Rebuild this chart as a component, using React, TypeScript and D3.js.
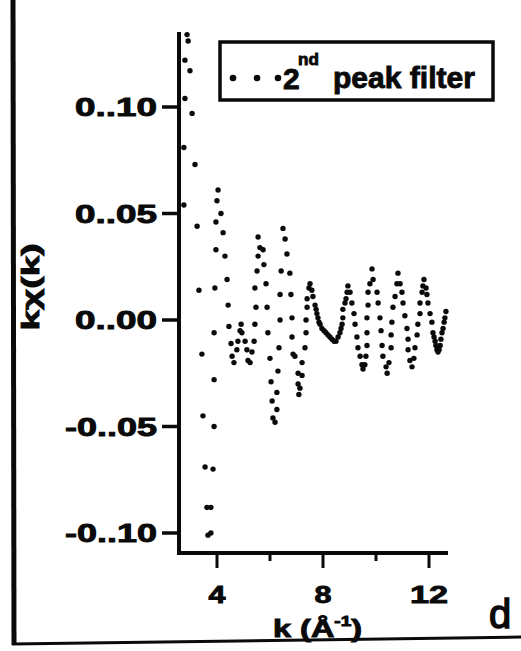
import React from "react";
import * as d3 from "d3";

// ---- data ----
const kValues: number[] = [
  2.75, 2.75, 2.79, 2.79, 2.87, 2.91, 2.98, 3.06, 3.17, 3.25, 3.32, 3.43, 3.47, 3.55, 3.62, 3.66, 3.77,
  3.77, 3.85, 3.89, 3.89, 3.89, 3.92, 3.96, 3.96, 4.0, 4.04,
  4.15, 4.23, 4.3, 4.38, 4.42, 4.45, 4.53, 4.57, 4.64,
  4.75, 4.79, 4.87, 4.91, 4.94, 5.06, 5.13, 5.17, 5.25,
  5.32, 5.4, 5.43, 5.47, 5.43, 5.51, 5.55, 5.55,
  5.62, 5.74, 5.77, 5.85, 5.89, 5.92, 6.0, 6.04, 6.08, 6.11, 6.19,
  6.26, 6.26, 6.3, 6.34, 6.38, 6.38, 6.42, 6.49,
  6.57, 6.64, 6.75, 6.79, 6.83, 6.83, 6.87, 6.94, 7.06, 7.06, 7.13, 7.09,
  7.21, 7.21, 7.32, 7.36, 7.36, 7.4, 7.4, 7.47, 7.51,
  7.58, 7.62, 7.7, 7.74, 7.77, 7.81, 7.85, 7.89, 7.96, 8.04, 8.11, 8.19, 8.26, 8.34, 8.42, 8.49,
  8.57, 8.64, 8.68, 8.72, 8.75, 8.75, 8.83, 8.87, 8.91, 8.94,
  9.02, 9.09, 9.17, 9.21, 9.28, 9.32, 9.4, 9.47, 9.51,
  9.58, 9.62, 9.66, 9.66, 9.66, 9.7, 9.7, 9.77, 9.85,
  9.89, 10.04, 10.08, 10.15, 10.19, 10.23, 10.26, 10.38, 10.42,
  10.49, 10.57, 10.57, 10.6, 10.64, 10.72, 10.79, 10.83,
  10.91, 10.98, 11.02, 11.09, 11.17, 11.21, 11.21, 11.28, 11.36,
  11.43, 11.47, 11.55, 11.58, 11.66, 11.66, 11.74, 11.77, 11.81,
  11.89, 11.92, 11.96, 12.04, 12.11, 12.15, 12.19, 12.23, 12.26, 12.3, 12.34,
  12.38, 12.42, 12.45, 12.49, 12.53, 12.57, 12.6, 12.64,
];
const chiValues: number[] = [
  0.054, 0.081, 0.104, 0.122, 0.134, 0.131, 0.117, 0.097, 0.073, 0.044, 0.014, -0.016, -0.045, -0.069, -0.088, -0.101, -0.1,
  -0.088, -0.07, -0.05, -0.028, -0.006, 0.015, 0.033, 0.046, 0.056, 0.061,
  0.05, 0.041, 0.03, 0.019, 0.007, -0.003, -0.011, -0.017, -0.02,
  -0.014, -0.01, -0.005, -0.002, -0.006, -0.01, -0.014, -0.019, -0.02,
  -0.015, -0.01, -0.002, 0.006, 0.015, 0.023, 0.03, 0.039,
  0.034, 0.033, 0.026, 0.017, 0.006, -0.006, -0.018, -0.029, -0.038, -0.046, -0.048,
  -0.042, -0.034, -0.024, -0.013, 0.0, 0.012, 0.023, 0.043,
  0.038, 0.031, 0.022, 0.012, 0.001, -0.008, -0.016, -0.017, -0.025, -0.03, -0.032, -0.035,
  -0.026, -0.02, -0.013, -0.006, 0.0, 0.006, 0.01, 0.015, 0.017,
  0.014, 0.011, 0.007, 0.005, 0.003, 0.001, -0.001, -0.002, -0.004, -0.005, -0.006, -0.007, -0.008, -0.009, -0.01, -0.01,
  -0.008, -0.006, -0.004, -0.002, 0.001, 0.005, 0.008, 0.01, 0.013, 0.016,
  0.013, 0.008, 0.003, -0.002, -0.008, -0.013, -0.017, -0.021, -0.023,
  -0.021, -0.017, -0.012, -0.006, 0.001, 0.007, 0.013, 0.017, 0.024,
  0.019, 0.013, 0.008, 0.001, -0.005, -0.012, -0.017, -0.022, -0.025,
  -0.02, -0.013, -0.007, -0.001, 0.006, 0.011, 0.017, 0.022,
  0.017, 0.013, 0.008, 0.002, -0.004, -0.009, -0.014, -0.019, -0.022,
  -0.018, -0.013, -0.007, -0.002, 0.003, 0.008, 0.013, 0.016, 0.019,
  0.015, 0.012, 0.008, 0.003, -0.001, -0.006, -0.008, -0.01, -0.012, -0.014, -0.015,
  -0.014, -0.012, -0.009, -0.006, -0.004, -0.001, 0.001, 0.004,
];

const yTicks: number[] = [0.1, 0.05, 0.0, -0.05, -0.1];
const yTickLabels: string[] = ["0..10", "0..05", "0..00", "-0..05", "-0..10"];
const xTicks: number[] = [4, 6, 8, 10, 12];
const xTickLabels: string[] = ["4", "", "8", "", "12"];
const seriesName = "peak filter";

const FONT = "'Liberation Sans', Arial, Helvetica, sans-serif";
const INK = "#0a0a0a";
const heavy = { stroke: INK, strokeWidth: 0.9, paintOrder: "stroke" as const };

export default function App() {
  const W = 521;
  const H = 651;
  const x = d3.scaleLinear().domain([4, 12]).range([217, 429]);
  const y = d3.scaleLinear().domain([-0.1, 0.1]).range([533, 107]);

  const axisX = 179;
  const axisTop = 32;
  const axisY = 553;
  const axisRight = 448;

  const points = kValues.map((k, i) => ({ k, v: chiValues[i] }));

  return (
    <svg
      width={W}
      height={H}
      viewBox={`0 0 ${W} ${H}`}
      style={{ position: "absolute", left: 0, top: 0, background: "#fff" }}
    >
      <rect x={0} y={0} width={W} height={H} fill="#fff" />
      {/* panel frame remnants */}
      <line x1={13} y1={0} x2={14} y2={645} stroke={INK} strokeWidth={5} />
      <line x1={12} y1={644} x2={W} y2={637} stroke={INK} strokeWidth={3} />

      {/* y axis */}
      <line x1={axisX} y1={axisTop} x2={axisX} y2={axisY + 2} stroke={INK} strokeWidth={4} />
      {yTicks.map((t, i) => (
        <g key={"yt" + i}>
          <line x1={axisX - 17} x2={axisX} y1={y(t)} y2={y(t)} stroke={INK} strokeWidth={3.5} />
          <text
            x={axisX - 22}
            y={y(t) + 9}
            textAnchor="end"
            fontFamily={FONT}
            fontWeight="bold"
            fontSize={25}
            fill={INK}
            {...heavy}
            textLength={yTickLabels[i].startsWith("-") ? 92 : 82}
            lengthAdjust="spacingAndGlyphs"
          >
            {yTickLabels[i]}
          </text>
        </g>
      ))}

      {/* x axis */}
      <line x1={axisX - 2} y1={axisY} x2={axisRight} y2={axisY} stroke={INK} strokeWidth={4} />
      {xTicks.map((t, i) => (
        <g key={"xt" + i}>
          <line
            x1={x(t)}
            x2={x(t)}
            y1={axisY}
            y2={axisY + (xTickLabels[i] ? 15 : 8)}
            stroke={INK}
            strokeWidth={3}
          />
          {xTickLabels[i] && (
            <text
              x={x(t)}
              y={603}
              textAnchor="middle"
              fontFamily={FONT}
              fontWeight="bold"
              fontSize={24}
              fill={INK}
              {...heavy}
              textLength={xTickLabels[i].length > 1 ? 38 : 17}
              lengthAdjust="spacingAndGlyphs"
            >
              {xTickLabels[i]}
            </text>
          )}
        </g>
      ))}

      {/* axis titles */}
      <text
        x={273}
        y={637}
        fontFamily={FONT}
        fontWeight="bold"
        fontSize={24}
        fill={INK}
        {...heavy}
        textLength={89}
        lengthAdjust="spacingAndGlyphs"
      >
        k (Å<tspan fontSize={14} dy={-11}>-1</tspan>
        <tspan dy={11}>)</tspan>
      </text>
      <text
        transform="translate(39,287) rotate(-90)"
        textAnchor="middle"
        fontFamily={FONT}
        fontWeight="bold"
        fontSize={24}
        fill={INK}
        {...heavy}
        textLength={87}
        lengthAdjust="spacingAndGlyphs"
      >
        kχ(k)
      </text>

      {/* data dots */}
      {points.map((p, i) => (
        <circle key={"p" + i} cx={x(p.k)} cy={y(p.v)} r={2.7} fill={INK} />
      ))}

      {/* legend */}
      <rect x={220} y={42} width={273} height={58} fill="none" stroke={INK} strokeWidth={3.5} />
      {[233, 257, 278].map((cx, i) => (
        <circle key={"ld" + i} cx={cx} cy={78} r={3.3} fill={INK} />
      ))}
      <text x={283} y={89} fontFamily={FONT} fontWeight="bold" fontSize={30} fill={INK} {...heavy}>
        2
      </text>
      <text x={298} y={65} fontFamily={FONT} fontWeight="bold" fontSize={17} fill={INK} {...heavy}>
        nd
      </text>
      <text
        x={333}
        y={88}
        fontFamily={FONT}
        fontWeight="bold"
        fontSize={30}
        fill={INK}
        {...heavy}
        textLength={142}
        lengthAdjust="spacingAndGlyphs"
      >
        {seriesName}
      </text>

      {/* panel letter */}
      <text x={489} y={628} fontFamily={FONT} fontSize={40} fill={INK} stroke={INK} strokeWidth={1.5}>
        d
      </text>
    </svg>
  );
}
